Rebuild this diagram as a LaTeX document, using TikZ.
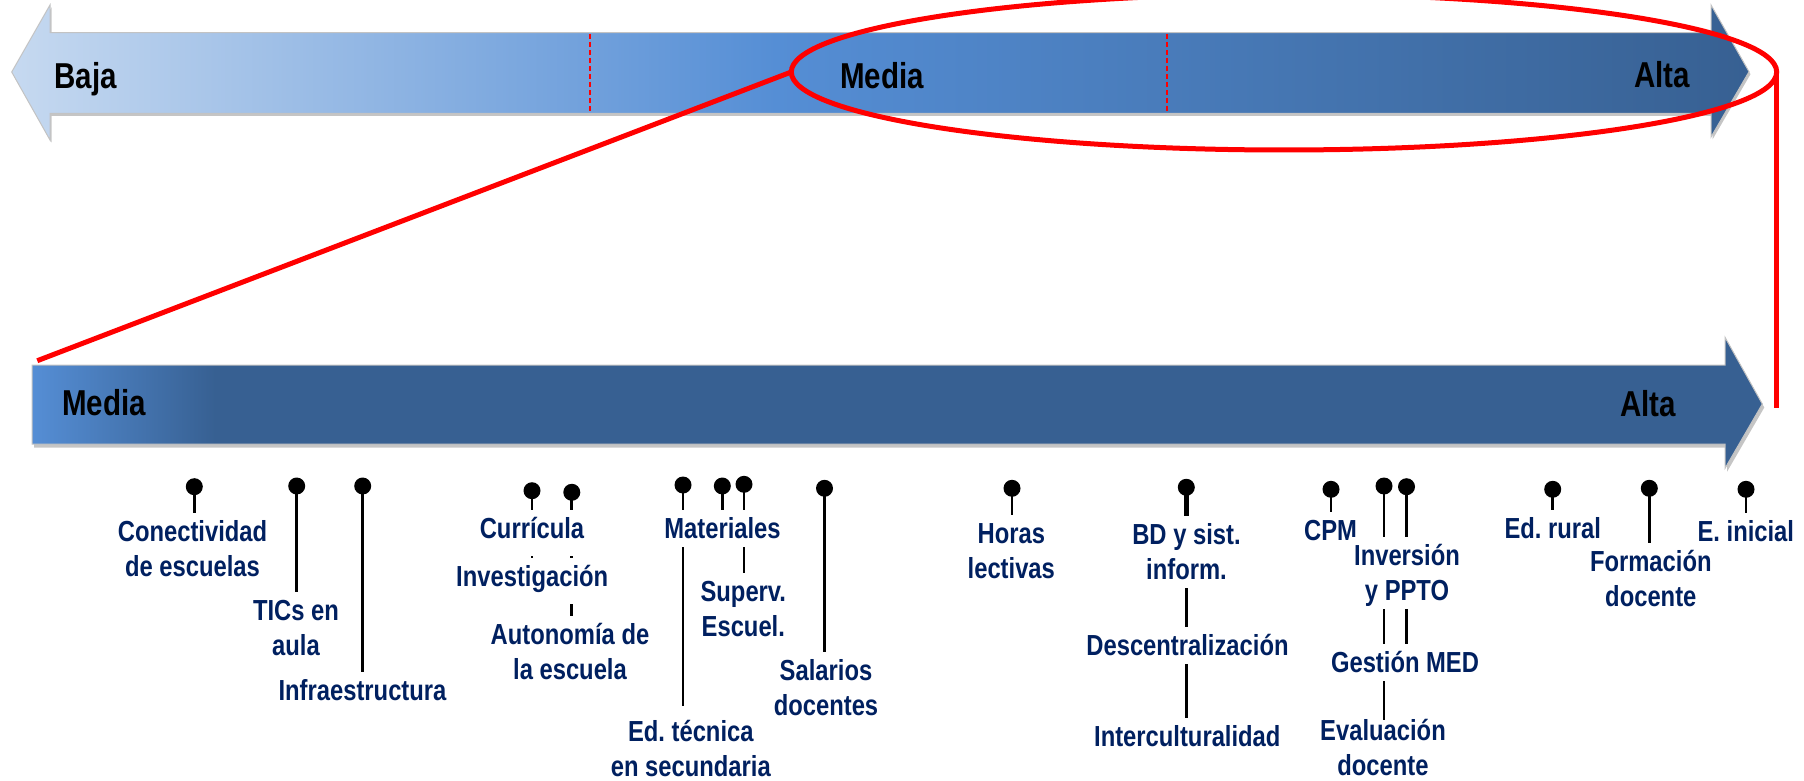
\documentclass[tikz,border=0pt]{standalone}
\usepackage{fontspec}
\setmainfont{Liberation Sans}
\newfontfamily\nar{Liberation Sans}[FakeStretch=0.82]
\usetikzlibrary{shapes.geometric,backgrounds}
\definecolor{navy}{RGB}{0,32,96}
\definecolor{lblue}{RGB}{198,217,240}
\definecolor{mblue}{RGB}{85,142,213}
\definecolor{dblue}{RGB}{55,96,146}
\definecolor{edgegray}{RGB}{195,195,195}
\definecolor{shadowgray}{RGB}{150,150,150}
\pgfdeclarehorizontalshading{topshade}{100bp}{color(0bp)=(lblue); color(25bp)=(lblue); color(47bp)=(mblue); color(75bp)=(dblue); color(100bp)=(dblue)}
\pgfdeclarehorizontalshading{botshade}{100bp}{color(0bp)=(mblue); color(25bp)=(mblue); color(30.3bp)=(dblue); color(100bp)=(dblue)}
\newcommand\tsup[1][28.5]{\rule{0pt}{#1pt}}
\newcommand\tsdn[1][8.5]{\rule[-#1pt]{0pt}{#1pt}}
\frenchspacing
\begin{document}
\begin{tikzpicture}[x=1pt,y=-1pt,
  lab/.style={font=\nar\bfseries\frenchspacing\fontsize{29}{35}\selectfont, text=navy, align=center, fill=white, inner xsep=2pt, inner ysep=0pt, anchor=north},
  big/.style={font=\nar\bfseries\fontsize{36}{40}\selectfont, text=black, anchor=base, inner sep=0pt},
  ball/.style={circle, fill=black, minimum size=17pt, inner sep=0pt},
  conn/.style={line width=2.8pt, black},
  redl/.style={red, line width=5pt},
  reddash/.style={red, line width=2pt, dash pattern=on 5pt off 3pt}]

\useasboundingbox (0,0) rectangle (1804,781);

% ---------- top double arrow ----------
\fill[shadowgray, opacity=0.55, shift={(1.5,2.5)}]
  (11.7,72) -- (50,5) -- (50,32.7) -- (1711,32.7) -- (1711,5) -- (1749,71.7)
  -- (1711,137) -- (1711,113.3) -- (50,113.3) -- (50,140) -- cycle;
\path[shading=topshade, draw=edgegray, line width=1pt]
  (11.7,72) -- (50,5) -- (50,32.7) -- (1711,32.7) -- (1711,5) -- (1749,71.7)
  -- (1711,137) -- (1711,113.3) -- (50,113.3) -- (50,140) -- cycle;
\draw[reddash] (590,34) -- (590,112.5);
\draw[reddash] (1167,34) -- (1167,112.5);
\node[big] (baja) at (85.5,88.3) {Baja};
\node[big] (mediatop) at (882,88.3) {Media};
\node[big] (altatop) at (1662.3,87.7) {Alta};

% ---------- bottom arrow ----------
\fill[shadowgray, opacity=0.55, shift={(2,3.5)}]
  (32,365) -- (1725,365) -- (1725,337.3) -- (1762.3,404) -- (1725,468.3)
  -- (1725,444) -- (32,444) -- cycle;
\path[shading=botshade, draw=edgegray, line width=1pt]
  (32,365) -- (1725,365) -- (1725,337.3) -- (1762.3,404) -- (1725,468.3)
  -- (1725,444) -- (32,444) -- cycle;
\node[big] (mediabot) at (104.2,415) {Media};
\node[big] (altabot) at (1648.2,416.7) {Alta};

% ---------- red zoom marks ----------
\node[draw=red, line width=5pt, ellipse, minimum width=985.4pt, minimum height=156pt,
      inner sep=0pt, outer sep=0pt] (ell) at (1284,72) {};
\coordinate (lend) at (37.3,360.7);
\coordinate (rend) at (1776.5,408.3);
\draw[redl] (ell.west) -- (lend);
\draw[redl] (ell.east) -- (ell.east |- rend);

% ---------- labels ----------
\node[lab] (conect) at (192.5,513.2) {\tsup Conectividad\\de escuelas\tsdn};
\node[lab] (tics) at (296,591.5) {\tsup TICs en\\aula\tsdn};
\node[lab] (infra) at (362.5,672) {\tsup Infraestructura\tsdn};
\node[lab] (curr) at (532,509.8) {\tsup Currícula\tsdn[17]};
\node[lab] (inv) at (532.2,558.2) {\tsup Investigación\tsdn[17.3]};
\node[lab] (auto) at (570,615.8) {\tsup Autonomía de\\la escuela\tsdn};
\node[lab] (mat) at (722.5,509.5) {\tsup Materiales\tsdn};
\node[lab] (edtec) at (690.8,705.7) {\tsup[35.3]Ed. técnica\\en secundaria\tsdn};
\node[lab] (sup) at (743.3,573.2) {\tsup Superv.\\Escuel.\tsdn};
\node[lab] (sal) at (826,651.5) {\tsup Salarios\\docentes\tsdn};
\node[lab] (horas) at (1011.3,514.8) {\tsup Horas\\lectivas\tsdn};
\node[lab] (bd) at (1186.5,515.5) {\tsup BD y sist.\\inform.\tsdn};
\node[lab] (desc) at (1187.5,626.5) {\tsup Descentralización\tsdn};
\node[lab] (inter) at (1187.3,717.5) {\tsup Interculturalidad\tsdn};
\node[lab] (cpm) at (1330.5,511.5) {\tsup CPM\tsdn};
\node[lab] (inver) at (1407,536.5) {\tsup Inversión\\y PPTO\tsdn};
\node[lab] (gest) at (1405,643.8) {\tsup Gestión MED\tsdn};
\node[lab] (eval) at (1383,719.5) {Evaluación\\docente\tsdn};
\node[lab] (rural) at (1552.8,509.8) {\tsup Ed. rural\tsdn};
\node[lab] (form) at (1650.8,543.2) {\tsup Formación\\docente\tsdn};
\node[lab] (inic) at (1745.8,513.2) {\tsup E. inicial\tsdn};

% ---------- pins ----------
\node[ball] (p1) at (194.3,486.7) {};
\node[ball] (p2) at (296.7,486) {};
\node[ball] (p3) at (362.7,486) {};
\node[ball] (p4) at (532,490.7) {};
\node[ball] (p5) at (571.8,492.3) {};
\node[ball] (p6) at (683,485) {};
\node[ball] (p7) at (722.3,486) {};
\node[ball] (p8) at (744,484.3) {};
\node[ball] (p9) at (824.5,488.3) {};
\node[ball] (p10) at (1012,488.3) {};
\node[ball] (p11) at (1186.3,487.3) {};
\node[ball] (p12) at (1331,489.3) {};
\node[ball] (p13) at (1384,486) {};
\node[ball] (p14) at (1406.5,486.7) {};
\node[ball] (p15) at (1552.7,489.3) {};
\node[ball] (p16) at (1649.3,488.3) {};
\node[ball] (p17) at (1746,489.3) {};

\begin{pgfonlayer}{background}
\draw[conn] (p1.center) -- (p1.center |- conect.north);
\draw[conn] (p2.center) -- (p2.center |- tics.north);
\draw[conn] (p3.center) -- (p3.center |- infra.north);
\draw[conn] (p4.center) -- (p4.center |- inv.north);
\draw[conn] (p5.center) -- (p5.center |- auto.north);
\draw[conn] (p6.center) -- (p6.center |- edtec.north);
\draw[conn] (p7.center) -- (p7.center |- mat.north);
\draw[conn] (p8.center) -- (p8.center |- sup.north);
\draw[conn] (p9.center) -- (p9.center |- sal.north);
\draw[conn] (p10.center) -- (p10.center |- horas.north);
\draw[conn, line width=4.5pt] (p11.center) -- (p11.center |- bd.north);
\draw[conn] (p11.center) -- (p11.center |- inter.north);
\draw[conn] (p12.center) -- (p12.center |- cpm.north);
\draw[conn] (p13.center) -- (p13.center |- eval.north);
\draw[conn] (p14.center) -- (p14.center |- gest.north);
\draw[conn] (p15.center) -- (p15.center |- rural.north);
\draw[conn] (p16.center) -- (p16.center |- form.north);
\draw[conn] (p17.center) -- (p17.center |- inic.north);
\end{pgfonlayer}
\end{tikzpicture}
\end{document}
